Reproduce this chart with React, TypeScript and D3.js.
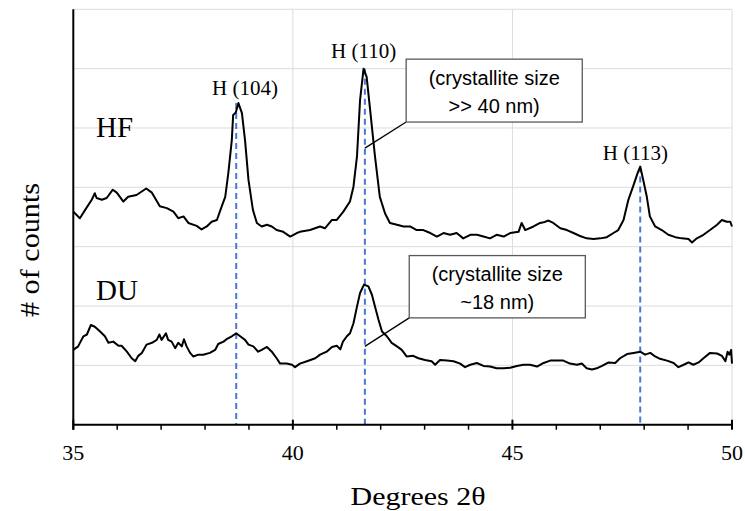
import React, { useEffect, useRef } from 'react';
import * as d3 from 'd3';

// HF sample: [degrees 2θ, counts (arb.)]
const hfSeries: [number, number][] = [
  [35.0, 3.59], [35.15, 3.48], [35.27, 3.62], [35.42, 3.79], [35.49, 3.9], [35.53, 3.82],
  [35.65, 3.79], [35.76, 3.82], [35.9, 3.96], [35.99, 3.91], [36.14, 3.76], [36.25, 3.84],
  [36.44, 3.87], [36.66, 3.98], [36.79, 3.91], [36.97, 3.68], [37.13, 3.65], [37.28, 3.59],
  [37.39, 3.48], [37.51, 3.51], [37.62, 3.4], [37.81, 3.35], [37.92, 3.29], [38.04, 3.34],
  [38.15, 3.42], [38.27, 3.45], [38.38, 3.68], [38.46, 3.84], [38.53, 4.24], [38.61, 4.8],
  [38.64, 5.22], [38.7, 5.26], [38.76, 5.42], [38.84, 5.25], [38.91, 4.8], [38.99, 4.12],
  [39.09, 3.62], [39.18, 3.4], [39.29, 3.34], [39.41, 3.37], [39.52, 3.34], [39.63, 3.28],
  [39.78, 3.25], [39.94, 3.17], [40.09, 3.23], [40.16, 3.25], [40.39, 3.28], [40.62, 3.34],
  [40.73, 3.31], [40.89, 3.45], [41.0, 3.45], [41.15, 3.59], [41.3, 3.76], [41.38, 4.01],
  [41.46, 4.52], [41.53, 5.47], [41.61, 6.0], [41.68, 5.86], [41.76, 5.3], [41.87, 4.52],
  [41.98, 3.84], [42.1, 3.56], [42.21, 3.4], [42.37, 3.37], [42.52, 3.34], [42.67, 3.34],
  [42.82, 3.28], [42.97, 3.28], [43.13, 3.23], [43.28, 3.17], [43.43, 3.23], [43.58, 3.2],
  [43.73, 3.23], [43.88, 3.14], [44.04, 3.2], [44.19, 3.2], [44.34, 3.17], [44.49, 3.14],
  [44.64, 3.2], [44.8, 3.17], [44.95, 3.23], [45.14, 3.25], [45.21, 3.4], [45.29, 3.28],
  [45.48, 3.34], [45.63, 3.4], [45.71, 3.41], [45.82, 3.44], [45.93, 3.4], [46.09, 3.31],
  [46.24, 3.28], [46.39, 3.23], [46.54, 3.18], [46.69, 3.14], [46.85, 3.13], [47.0, 3.14],
  [47.15, 3.16], [47.3, 3.23], [47.41, 3.28], [47.53, 3.45], [47.64, 3.79], [47.76, 4.04],
  [47.85, 4.24], [47.91, 4.35], [47.98, 4.12], [48.06, 3.84], [48.13, 3.51], [48.25, 3.34],
  [48.4, 3.28], [48.55, 3.2], [48.71, 3.16], [48.86, 3.14], [49.01, 3.13], [49.09, 3.07],
  [49.2, 3.14], [49.35, 3.2], [49.5, 3.28], [49.66, 3.37], [49.77, 3.45], [49.88, 3.42],
  [49.96, 3.42], [50.0, 3.34],
];

// DU sample
const duSeries: [number, number][] = [
  [35.0, 1.26], [35.11, 1.32], [35.23, 1.49], [35.31, 1.52], [35.4, 1.68], [35.49, 1.65],
  [35.61, 1.57], [35.72, 1.49], [35.8, 1.38], [35.91, 1.4], [36.03, 1.33], [36.1, 1.33],
  [36.22, 1.23], [36.33, 1.12], [36.41, 1.07], [36.48, 1.16], [36.56, 1.21], [36.67, 1.35],
  [36.79, 1.38], [36.9, 1.43], [36.96, 1.52], [37.01, 1.43], [37.11, 1.54], [37.16, 1.43],
  [37.24, 1.4], [37.32, 1.29], [37.39, 1.38], [37.47, 1.32], [37.52, 1.44], [37.58, 1.32],
  [37.66, 1.21], [37.73, 1.15], [37.85, 1.18], [37.96, 1.18], [38.11, 1.21], [38.23, 1.26],
  [38.3, 1.36], [38.42, 1.4], [38.49, 1.44], [38.61, 1.49], [38.71, 1.54], [38.8, 1.49],
  [38.91, 1.43], [38.99, 1.35], [39.1, 1.32], [39.21, 1.23], [39.29, 1.26], [39.41, 1.31],
  [39.52, 1.23], [39.63, 1.12], [39.71, 1.03], [39.86, 1.03], [39.98, 1.01], [40.05, 0.97],
  [40.16, 1.03], [40.32, 1.07], [40.51, 1.12], [40.62, 1.18], [40.77, 1.23], [40.89, 1.31],
  [41.0, 1.33], [41.08, 1.27], [41.14, 1.4], [41.23, 1.49], [41.3, 1.54], [41.38, 1.71],
  [41.46, 1.99], [41.53, 2.22], [41.62, 2.36], [41.72, 2.33], [41.8, 2.19], [41.87, 1.99],
  [41.95, 1.77], [42.03, 1.57], [42.14, 1.49], [42.25, 1.38], [42.37, 1.32], [42.48, 1.26],
  [42.59, 1.15], [42.74, 1.16], [42.86, 1.12], [43.01, 1.09], [43.16, 1.07], [43.24, 1.01],
  [43.35, 1.09], [43.51, 1.08], [43.66, 1.07], [43.81, 1.03], [43.92, 0.97], [44.04, 1.01],
  [44.19, 1.04], [44.34, 0.99], [44.49, 0.98], [44.64, 0.95], [44.8, 0.95], [44.95, 0.96],
  [45.1, 0.99], [45.25, 1.01], [45.4, 1.01], [45.56, 0.98], [45.71, 1.04], [45.86, 1.08],
  [46.01, 1.08], [46.16, 1.08], [46.31, 1.03], [46.47, 1.01], [46.58, 1.03], [46.69, 0.95],
  [46.81, 0.93], [46.92, 0.95], [47.04, 0.99], [47.19, 1.05], [47.34, 1.04], [47.45, 1.12],
  [47.61, 1.19], [47.76, 1.21], [47.91, 1.23], [48.02, 1.18], [48.14, 1.21], [48.25, 1.15],
  [48.36, 1.11], [48.52, 1.08], [48.67, 1.04], [48.78, 0.97], [48.9, 1.01], [49.01, 1.05],
  [49.12, 1.01], [49.24, 1.05], [49.35, 1.12], [49.5, 1.21], [49.66, 1.2], [49.77, 1.16],
  [49.85, 1.07], [49.9, 1.23], [49.94, 1.18], [49.98, 1.26], [50.0, 1.03],
];

// reflections (dashed markers)
const peakNames = ['H (104)', 'H (110)', 'H (113)'];
const peakPositions = [38.71, 41.64, 47.91];
const peakTops = [5.42, 6.0, 4.35];
const peakLabelX = [38.91, 41.61, 47.8];
const peakLabelY = [5.56, 6.18, 4.46];

const sampleNames = ['HF', 'DU'];
const sampleLabelY = [4.85, 2.1];

// callouts: [x0, x1, yTop, yBottom], text lines, leader target
const calloutBoxes = [
  [42.58, 46.59, 6.16, 5.1],
  [42.65, 46.66, 2.85, 1.8],
];
const calloutLines = [
  ['(crystallite size', '>> 40 nm)'],
  ['(crystallite size', '~18 nm)'],
];
const calloutTargets = [
  [41.64, 4.66],
  [41.64, 1.32],
];

const xMajorTicks = [35, 40, 45, 50];
const xMinorTicks = d3.range(36, 50);
const yGrid = d3.range(1, 8);

const W = 745;
const H = 511;
const margin = { left: 73.3, right: 13, top: 9.3, bottom: 86.3 };
const serif = '"Liberation Serif", "Times New Roman", serif';
const sans = '"Liberation Sans", Arial, sans-serif';

const App = () => {
  const ref = useRef<SVGSVGElement>(null);

  useEffect(() => {
    const svg = d3.select(ref.current);
    svg.selectAll('*').remove();

    const x = d3.scaleLinear().domain([35, 50]).range([margin.left, W - margin.right]);
    const y = d3.scaleLinear().domain([0, 7]).range([H - margin.bottom, margin.top]);

    // gridlines
    svg.append('g')
      .selectAll('line.h')
      .data(yGrid)
      .enter().append('line')
      .attr('x1', x(35)).attr('x2', x(50))
      .attr('y1', d => y(d)).attr('y2', d => y(d))
      .attr('stroke', '#dcdcdc').attr('stroke-width', 1);
    svg.append('g')
      .selectAll('line.v')
      .data([40, 45, 50])
      .enter().append('line')
      .attr('x1', d => x(d)).attr('x2', d => x(d))
      .attr('y1', y(0)).attr('y2', y(7))
      .attr('stroke', '#dcdcdc').attr('stroke-width', 1);

    // dashed peak markers
    svg.append('g')
      .selectAll('line')
      .data(peakPositions)
      .enter().append('line')
      .attr('x1', d => x(d)).attr('x2', d => x(d))
      .attr('y1', (d, i) => y(peakTops[i])).attr('y2', y(0))
      .attr('stroke', '#4a78d0').attr('stroke-width', 2)
      .attr('stroke-dasharray', '6,4');

    // curves
    const line = d3.line<[number, number]>().x(d => x(d[0])).y(d => y(d[1]));
    [hfSeries, duSeries].forEach(s => {
      svg.append('path')
        .attr('d', line(s))
        .attr('fill', 'none')
        .attr('stroke', '#000')
        .attr('stroke-width', 2)
        .attr('stroke-linejoin', 'round');
    });

    // axes
    const ax = svg.append('g').attr('stroke', '#000').attr('stroke-width', 2);
    ax.append('line').attr('x1', x(35)).attr('x2', x(35)).attr('y1', y(7)).attr('y2', y(0) + 5);
    ax.append('line').attr('x1', x(35)).attr('x2', x(50)).attr('y1', y(0)).attr('y2', y(0));
    ax.selectAll('line.maj')
      .data(xMajorTicks)
      .enter().append('line')
      .attr('x1', d => x(d)).attr('x2', d => x(d))
      .attr('y1', y(0) - 5).attr('y2', y(0) + 5);
    ax.selectAll('line.min')
      .data(xMinorTicks.filter(d => d % 5 !== 0))
      .enter().append('line')
      .attr('stroke-width', 1.5)
      .attr('x1', d => x(d)).attr('x2', d => x(d))
      .attr('y1', y(0)).attr('y2', y(0) + 5);

    svg.append('g')
      .selectAll('text')
      .data(xMajorTicks)
      .enter().append('text')
      .attr('x', d => x(d)).attr('y', y(0) + 35)
      .attr('text-anchor', 'middle')
      .style('font-family', serif).style('font-size', '22px')
      .text(d => d);

    // axis titles
    svg.append('text')
      .attr('x', 418).attr('y', 505)
      .attr('text-anchor', 'middle')
      .attr('textLength', 135).attr('lengthAdjust', 'spacingAndGlyphs')
      .style('font-family', serif).style('font-size', '25px')
      .text('Degrees 2θ');
    svg.append('text')
      .attr('transform', 'translate(39,250) rotate(-90)')
      .attr('text-anchor', 'middle')
      .attr('textLength', 134).attr('lengthAdjust', 'spacingAndGlyphs')
      .style('font-family', serif).style('font-size', '27px')
      .text('# of counts');

    // sample labels
    svg.append('g')
      .selectAll('text')
      .data(sampleNames)
      .enter().append('text')
      .attr('x', 96).attr('y', (d, i) => y(sampleLabelY[i]))
      .style('font-family', serif).style('font-size', '29px')
      .text(d => d);

    // peak labels
    svg.append('g')
      .selectAll('text')
      .data(peakNames)
      .enter().append('text')
      .attr('x', (d, i) => x(peakLabelX[i])).attr('y', (d, i) => y(peakLabelY[i]))
      .attr('text-anchor', 'middle')
      .style('font-family', serif).style('font-size', '21px')
      .text(d => d);

    // callouts
    calloutBoxes.forEach((b, i) => {
      const g = svg.append('g');
      g.append('line')
        .attr('x1', x(b[0])).attr('y1', y(b[3]))
        .attr('x2', x(calloutTargets[i][0])).attr('y2', y(calloutTargets[i][1]))
        .attr('stroke', '#000').attr('stroke-width', 1.3);
      g.append('rect')
        .attr('x', x(b[0])).attr('y', y(b[2]))
        .attr('width', x(b[1]) - x(b[0])).attr('height', y(b[3]) - y(b[2]))
        .attr('fill', '#fff').attr('stroke', '#595959').attr('stroke-width', 1.3);
      const cx = (x(b[0]) + x(b[1])) / 2;
      const cy = (y(b[2]) + y(b[3])) / 2;
      calloutLines[i].forEach((t, j) => {
        g.append('text')
          .attr('x', cx).attr('y', cy - 6 + j * 28)
          .attr('text-anchor', 'middle')
          .style('font-family', sans).style('font-size', '20px')
          .text(t);
      });
    });
  }, []);

  return (
    <svg ref={ref} width={W} height={H} style={{ position: 'absolute', left: 0, top: 0, background: '#fff' }} />
  );
};

export default App;
